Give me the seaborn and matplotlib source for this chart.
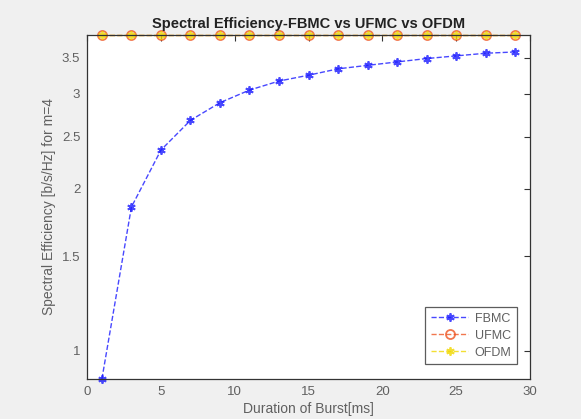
import numpy as np
import pandas as pd
import seaborn as sns
import matplotlib.pyplot as plt
from matplotlib.ticker import FixedLocator, NullLocator, FixedFormatter

burst = [1, 3, 5, 7, 9, 11, 13, 15, 17, 19, 21, 23, 25, 27, 29]
fbmc = [0.887, 1.85, 2.36, 2.68, 2.89, 3.05, 3.17, 3.25, 3.34, 3.39, 3.44, 3.49, 3.53, 3.57, 3.59]
ufmc = [3.86] * 15
ofdm = [3.86] * 15
yticks = [1, 1.5, 2, 2.5, 3, 3.5]
ytick_labels = ['1', '1.5', '2', '2.5', '3', '3.5']

sns.set_style('white')
plt.rcParams['font.family'] = ['Liberation Sans', 'DejaVu Sans']

fig = plt.figure(figsize=(5.81, 4.19), dpi=100)
fig.patch.set_facecolor('#f0f0f0')
ax = fig.add_axes([0.150, 0.0955, 0.762, 0.821])
ax.set_facecolor('white')

df = pd.DataFrame({'x': burst * 3,
                   'y': fbmc + ufmc + ofdm,
                   'scheme': ['FBMC'] * 15 + ['UFMC'] * 15 + ['OFDM'] * 15})

asterisk = (6, 2, 0)
styles = {'FBMC': ('#1a1aff', asterisk, 'full', 6),
          'UFMC': ('#ee5522', 'o', 'none', 6.5),
          'OFDM': ('#f0d800', asterisk, 'full', 6)}
for name, (col, mk, fill, ms) in styles.items():
    sub = df[df.scheme == name]
    sns.lineplot(data=sub, x='x', y='y', ax=ax, color=col, linestyle='--',
                 linewidth=1.0, marker=mk, markersize=ms, fillstyle=fill,
                 markeredgecolor=col, markeredgewidth=1.3, label=name,
                 clip_on=False, alpha=0.8, dashes=(4, 2.5))

ax.set_yscale('log')
ax.set_xlim(0, 30)
ax.set_ylim(0.887, 3.86)
ax.yaxis.set_major_locator(FixedLocator(yticks))
ax.yaxis.set_major_formatter(FixedFormatter(ytick_labels))
ax.yaxis.set_minor_locator(NullLocator())
ax.set_xticks([0, 5, 10, 15, 20, 25, 30])

ax.tick_params(direction='in', length=4, width=0.8, labelsize=9.5,
               labelcolor='#606060', color='#333333', top=True, right=True, pad=5)
for s in ax.spines.values():
    s.set_color('#333333')
    s.set_linewidth(0.9)
    s.set_visible(True)

ax.set_title('Spectral Efficiency-FBMC vs UFMC vs OFDM', fontsize=10.5,
             fontweight='bold', color='#222222', pad=5)
ax.set_xlabel('Duration of Burst[ms]', fontsize=10, color='#606060', labelpad=3)
ax.set_ylabel('Spectral Efficiency [b/s/Hz] for m=4', fontsize=10,
              color='#606060', labelpad=4)

leg = ax.legend(loc='lower right', fontsize=9, frameon=True, fancybox=False,
                edgecolor='#333333', borderpad=0.45, handlelength=3.0,
                labelspacing=0.4, handletextpad=0.5,
                bbox_to_anchor=(0.985, 0.025))
leg.get_frame().set_linewidth(0.9)
for t in leg.get_texts():
    t.set_color('#606060')

fig.savefig('out.png', dpi=100, facecolor=fig.get_facecolor())
